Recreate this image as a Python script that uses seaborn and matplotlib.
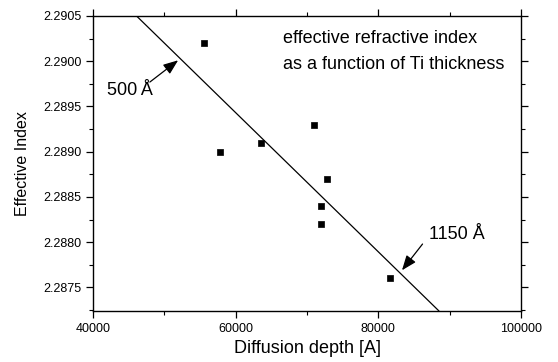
import matplotlib
matplotlib.use("Agg")
import matplotlib.pyplot as plt
import seaborn as sns
import pandas as pd
from matplotlib.ticker import MultipleLocator

# Data
depth = [55600, 57800, 63600, 71000, 72800, 72000, 72000, 81600]
index = [2.2902, 2.2890, 2.2891, 2.2893, 2.2887, 2.2884, 2.2882, 2.2876]
fit_x = [46100, 88500]
fit_y = [2.2905, 2.28724]
x_ticks = [40000, 60000, 80000, 100000]
y_ticks = [2.2875, 2.2880, 2.2885, 2.2890, 2.2895, 2.2900, 2.2905]

sns.set_theme(style="ticks")
plt.rcParams['font.family'] = ['Liberation Sans', 'DejaVu Sans']

fig = plt.figure(figsize=(5.58, 3.62), dpi=100)
ax = fig.add_axes([0.1667, 0.1409, 0.767, 0.815])

pts = pd.DataFrame({"depth": depth, "index": index})
fit = pd.DataFrame({"x": fit_x, "y": fit_y})
sns.lineplot(data=fit, x="x", y="y", ax=ax, color="black", lw=0.9)
sns.scatterplot(data=pts, x="depth", y="index", ax=ax, marker="s", s=22,
                color="black", edgecolor="black", linewidth=0.5, zorder=3)

ax.set_xlim(40000, 100000)
ax.set_ylim(2.28724, 2.2905)
ax.set_xticks(x_ticks)
ax.set_yticks(y_ticks)
ax.set_yticklabels([f"{v:.4f}" for v in y_ticks])
ax.xaxis.set_minor_locator(MultipleLocator(10000))
ax.yaxis.set_minor_locator(MultipleLocator(0.00025))
ax.tick_params(which="both", direction="out", top=True, right=True,
               labeltop=False, labelright=False, color="black", labelsize=9,
               labelcolor="black")
ax.tick_params(which="major", length=5, width=0.9)
ax.tick_params(which="minor", length=3, width=0.8)
for s in ax.spines.values():
    s.set_color("black")
    s.set_linewidth(1.0)

ax.set_xlabel("Diffusion depth [A]", fontsize=13, color="black", labelpad=4)
ax.set_ylabel("Effective Index", fontsize=11.5, color="black", labelpad=9)

ax.text(66615, 2.29025, "effective refractive index", fontsize=13,
        ha="left", va="center", color="black")
ax.text(66615, 2.28996, "as a function of Ti thickness", fontsize=13,
        ha="left", va="center", color="black")

arrow = dict(arrowstyle="-|>,head_length=0.9,head_width=0.35", color="black",
             lw=0.9, mutation_scale=10, shrinkA=0, shrinkB=0)
ax.annotate("", xy=(51930, 2.29001), xytext=(47972, 2.28977), arrowprops=arrow)
ax.text(48433, 2.28968, "500\u2009Å", fontsize=13, ha="right", va="center",
        color="black")
ax.annotate("", xy=(83315, 2.28769), xytext=(86196, 2.28798), arrowprops=arrow)
ax.text(87035, 2.28808, "1150 Å", fontsize=13, ha="left", va="center",
        color="black")

fig.savefig("out.png", dpi=100)
